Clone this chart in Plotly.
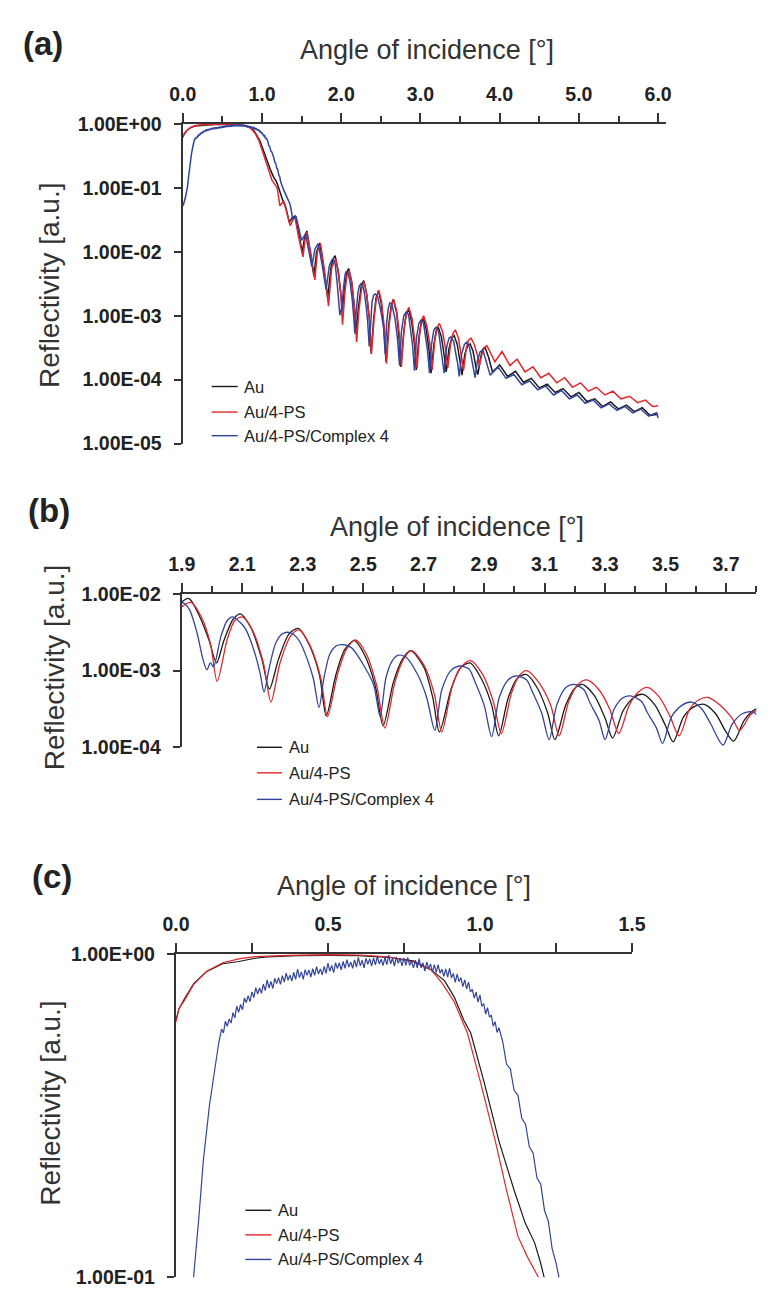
import plotly.graph_objects as go

W, H = 778, 1296

# ---------------- data: (angle [deg], log10 reflectivity) ----------------
AU = [
    (0.0, -0.205), (0.01, -0.17), (0.0275, -0.14), (0.059, -0.092), (0.10, -0.056), (0.154, -0.031),
    (0.207, -0.024), (0.26, -0.014), (0.30, -0.010), (0.40, -0.006), (0.50, -0.005), (0.60, -0.006),
    (0.70, -0.011), (0.78, -0.022), (0.84, -0.05), (0.884, -0.084), (0.916, -0.135), (0.947, -0.206),
    (0.97, -0.246), (1.014, -0.398), (1.063, -0.581), (1.113, -0.733), (1.149, -0.833), (1.18, -0.894),
    (1.199, -0.954), (1.211, -1.0), (1.235, -1.12), (1.27, -1.22), (1.30, -1.30), (1.345, -1.54),
    (1.38, -1.47), (1.417, -1.44), (1.46, -1.70), (1.51, -2.00), (1.54, -1.76), (1.567, -1.67),
    (1.61, -2.0), (1.655, -2.38), (1.69, -2.0), (1.729, -1.86), (1.78, -2.25), (1.83, -2.72),
    (1.87, -2.25), (1.898, -2.11), (1.924, -2.06), (1.96, -2.3), (1.99, -2.6), (2.015, -2.90),
    (2.04, -2.6), (2.07, -2.33), (2.094, -2.26), (2.13, -2.45), (2.165, -2.85), (2.19, -3.24),
    (2.22, -2.85), (2.255, -2.52), (2.285, -2.45), (2.32, -2.65), (2.355, -3.05), (2.378, -3.59),
    (2.41, -3.05), (2.44, -2.72), (2.471, -2.61), (2.505, -2.8), (2.54, -3.2), (2.566, -3.72),
    (2.60, -3.15), (2.63, -2.85), (2.657, -2.74), (2.70, -2.95), (2.73, -3.35), (2.752, -3.80),
    (2.79, -3.25), (2.82, -2.97), (2.853, -2.90), (2.89, -3.1), (2.925, -3.45), (2.948, -3.85),
    (2.98, -3.35), (3.01, -3.1), (3.039, -3.05), (3.075, -3.22), (3.11, -3.55), (3.134, -3.90),
    (3.17, -3.45), (3.20, -3.23), (3.225, -3.18), (3.265, -3.33), (3.30, -3.62), (3.325, -3.88),
    (3.36, -3.52), (3.395, -3.35), (3.426, -3.31), (3.465, -3.45), (3.50, -3.72), (3.525, -3.93),
    (3.56, -3.6), (3.595, -3.47), (3.628, -3.44), (3.665, -3.56), (3.70, -3.80), (3.725, -3.92),
    (3.76, -3.65), (3.79, -3.52), (3.815, -3.49), (3.86, -3.65), (3.91, -3.88), (4.0, -3.77),
    (4.1, -3.95), (4.2, -3.87), (4.3, -4.04), (4.4, -3.98), (4.5, -4.13), (4.6, -4.07), (4.7, -4.2),
    (4.8, -4.14), (4.9, -4.27), (5.0, -4.2), (5.1, -4.34), (5.2, -4.3), (5.3, -4.42), (5.4, -4.35),
    (5.5, -4.46), (5.6, -4.4), (5.7, -4.5), (5.8, -4.44), (5.9, -4.56), (6.0, -4.54),
]

AU_PS = [
    (0.0, -0.211), (0.01, -0.17), (0.0275, -0.145), (0.059, -0.094), (0.1015, -0.054), (0.154, -0.028),
    (0.207, -0.016), (0.26, -0.009), (0.37, -0.005), (0.5, -0.003), (0.6, -0.004), (0.7, -0.01),
    (0.78, -0.025), (0.84, -0.05), (0.878, -0.094), (0.916, -0.15), (0.959, -0.246), (1.002, -0.398),
    (1.051, -0.581), (1.088, -0.733), (1.125, -0.874), (1.155, -0.935), (1.192, -1.0), (1.227, -1.28),
    (1.255, -1.22), (1.275, -1.20), (1.30, -1.32), (1.356, -1.59), (1.39, -1.50), (1.417, -1.46),
    (1.46, -1.75), (1.518, -2.08), (1.545, -1.80), (1.567, -1.69), (1.62, -2.05), (1.668, -2.44),
    (1.70, -2.0), (1.74, -1.87), (1.79, -2.3), (1.84, -2.85), (1.88, -2.25), (1.93, -2.11),
    (1.965, -2.3), (1.995, -2.65), (2.017, -3.14), (2.05, -2.6), (2.075, -2.35), (2.10, -2.30),
    (2.135, -2.48), (2.17, -2.9), (2.195, -3.41), (2.225, -2.9), (2.26, -2.55), (2.288, -2.47),
    (2.325, -2.68), (2.36, -3.1), (2.382, -3.6), (2.415, -3.05), (2.445, -2.72), (2.475, -2.60),
    (2.51, -2.78), (2.545, -3.2), (2.572, -3.75), (2.605, -3.15), (2.635, -2.84), (2.66, -2.74),
    (2.70, -2.92), (2.735, -3.3), (2.76, -3.80), (2.795, -3.2), (2.825, -2.95), (2.855, -2.87),
    (2.895, -3.05), (2.93, -3.4), (2.957, -3.82), (2.99, -3.3), (3.015, -3.07), (3.04, -3.0),
    (3.08, -3.15), (3.12, -3.45), (3.148, -3.85), (3.18, -3.4), (3.21, -3.18), (3.24, -3.12),
    (3.28, -3.25), (3.315, -3.5), (3.345, -3.82), (3.38, -3.45), (3.41, -3.28), (3.44, -3.22),
    (3.48, -3.35), (3.515, -3.6), (3.545, -3.85), (3.58, -3.5), (3.61, -3.38), (3.64, -3.35),
    (3.68, -3.45), (3.72, -3.62), (3.745, -3.78), (3.78, -3.58), (3.81, -3.5), (3.84, -3.47),
    (3.89, -3.6), (3.94, -3.72), (4.03, -3.56), (4.13, -3.78), (4.22, -3.68), (4.32, -3.88),
    (4.42, -3.80), (4.52, -3.97), (4.62, -3.90), (4.72, -4.05), (4.82, -3.97), (4.92, -4.12),
    (5.02, -4.05), (5.12, -4.18), (5.22, -4.12), (5.33, -4.24), (5.43, -4.18), (5.53, -4.3),
    (5.64, -4.26), (5.74, -4.36), (5.84, -4.32), (5.93, -4.42), (6.0, -4.41),
]

AU_PS_C4 = [
    (0.0, -1.28), (0.01, -1.26), (0.03, -1.17), (0.045, -1.08), (0.058, -1.0), (0.075, -0.82),
    (0.09, -0.64), (0.11, -0.47), (0.13, -0.34), (0.14, -0.28),
    (0.150, -0.233), (0.15625, -0.245), (0.1625, -0.209), (0.16875, -0.2245), (0.175, -0.202),
    (0.18125, -0.2145), (0.1875, -0.182), (0.19375, -0.1985), (0.200, -0.162), (0.20625, -0.1815),
    (0.2125, -0.157), (0.21875, -0.1735), (0.225, -0.137), (0.23125, -0.151), (0.2375, -0.130),
    (0.24375, -0.148), (0.250, -0.118), (0.25625, -0.1355), (0.2625, -0.105), (0.26875, -0.1245),
    (0.275, -0.106), (0.28125, -0.1225), (0.2875, -0.094), (0.29375, -0.114), (0.300, -0.081),
    (0.30625, -0.1055), (0.3125, -0.086), (0.31875, -0.1075), (0.325, -0.076), (0.33125, -0.0925),
    (0.3375, -0.074), (0.34375, -0.095), (0.350, -0.068), (0.35625, -0.088), (0.3625, -0.060),
    (0.36875, -0.082), (0.375, -0.066), (0.38125, -0.0845), (0.3875, -0.058), (0.39375, -0.0795),
    (0.400, -0.048), (0.40625, -0.074), (0.4125, -0.056), (0.41875, -0.079), (0.425, -0.049),
    (0.43125, -0.067), (0.4375, -0.050), (0.44375, -0.072), (0.450, -0.046), (0.45625, -0.067),
    (0.4625, -0.040), (0.46875, -0.0625), (0.475, -0.047), (0.48125, -0.0655), (0.4875, -0.039),
    (0.49375, -0.0605), (0.500, -0.029), (0.50625, -0.0545), (0.5125, -0.036), (0.51875, -0.0585),
    (0.525, -0.028), (0.53125, -0.0455), (0.5375, -0.028), (0.54375, -0.050), (0.550, -0.024),
    (0.55625, -0.045), (0.5625, -0.018), (0.56875, -0.041), (0.575, -0.026), (0.58125, -0.045),
    (0.5875, -0.019), (0.59375, -0.0415), (0.600, -0.011), (0.60625, -0.0375), (0.6125, -0.020),
    (0.61875, -0.0435), (0.625, -0.014), (0.63125, -0.0325), (0.6375, -0.016), (0.64375, -0.0385),
    (0.650, -0.013), (0.65625, -0.0345), (0.6625, -0.008), (0.66875, -0.0315), (0.675, -0.017),
    (0.68125, -0.0365), (0.6875, -0.011), (0.69375, -0.034), (0.700, -0.004), (0.70625, -0.031),
    (0.7125, -0.014), (0.71875, -0.0385), (0.725, -0.010), (0.73125, -0.0295), (0.7375, -0.014),
    (0.74375, -0.0375), (0.750, -0.013), (0.75625, -0.036), (0.7625, -0.011), (0.76875, -0.036),
    (0.775, -0.023), (0.78125, -0.044), (0.7875, -0.020), (0.79375, -0.044), (0.800, -0.015),
    (0.80625, -0.0435), (0.8125, -0.028), (0.81875, -0.0535), (0.825, -0.026), (0.83125, -0.0465),
    (0.8375, -0.032), (0.84375, -0.057), (0.850, -0.034), (0.85625, -0.058), (0.8625, -0.034),
    (0.86875, -0.060), (0.875, -0.048), (0.88125, -0.070), (0.8875, -0.047), (0.89375, -0.0725),
    (0.900, -0.045), (0.90625, -0.075), (0.9125, -0.061), (0.91875, -0.0885), (0.925, -0.063),
    (0.93125, -0.086), (0.9375, -0.074), (0.94375, -0.1015), (0.950, -0.081), (0.95625, -0.1085),
    (0.9625, -0.088), (0.96875, -0.118), (0.975, -0.110), (0.98125, -0.137), (0.9875, -0.119),
    (0.99375, -0.1495), (1.000, -0.127), (1.00625, -0.1625), (1.0125, -0.154), (1.01875, -0.187),
    (1.025, -0.167), (1.03125, -0.196), (1.0375, -0.190), (1.04375, -0.224), (1.050, -0.210),
    (1.05625, -0.2435), (1.0625, -0.229), (1.075, -0.272), (1.0875, -0.342), (1.100, -0.356),
    (1.1125, -0.423), (1.125, -0.437), (1.1375, -0.509), (1.150, -0.527), (1.1625, -0.597),
    (1.175, -0.617), (1.1875, -0.693), (1.200, -0.713), (1.2125, -0.794), (1.225, -0.827),
    (1.2375, -0.912), (1.25, -0.955), (1.26, -1.0),
    (1.28, -1.05), (1.30, -1.10), (1.33, -1.18), (1.356, -1.26), (1.39, -1.49), (1.43, -1.44),
    (1.46, -1.60), (1.50, -1.82), (1.55, -1.72), (1.59, -1.95), (1.63, -2.23), (1.67, -1.95),
    (1.71, -1.87), (1.76, -2.2), (1.81, -2.59), (1.85, -2.22), (1.88, -2.13), (1.90, -2.11),
    (1.925, -2.2), (1.95, -2.5), (1.97, -2.85), (1.983, -2.99), (1.995, -2.90), (2.005, -2.95),
    (2.03, -2.55), (2.05, -2.35), (2.068, -2.30), (2.09, -2.36), (2.11, -2.45), (2.14, -2.75),
    (2.16, -3.05), (2.172, -3.28), (2.19, -2.95), (2.21, -2.65), (2.23, -2.53), (2.248, -2.50),
    (2.27, -2.53), (2.29, -2.62), (2.315, -2.85), (2.335, -3.1), (2.354, -3.48), (2.37, -3.1),
    (2.39, -2.78), (2.41, -2.68), (2.429, -2.66), (2.461, -2.70), (2.503, -2.94), (2.535, -3.19),
    (2.556, -3.60), (2.575, -3.1), (2.595, -2.88), (2.614, -2.80), (2.64, -2.82), (2.68, -3.05),
    (2.71, -3.35), (2.737, -3.78), (2.76, -3.25), (2.79, -3.0), (2.82, -2.94), (2.85, -2.98),
    (2.87, -3.15), (2.90, -3.45), (2.925, -3.86), (2.95, -3.35), (2.98, -3.12), (3.007, -3.07),
    (3.04, -3.12), (3.06, -3.28), (3.09, -3.55), (3.115, -3.9), (3.14, -3.45), (3.17, -3.22),
    (3.198, -3.18), (3.23, -3.25), (3.25, -3.42), (3.28, -3.65), (3.30, -3.9), (3.33, -3.5),
    (3.36, -3.35), (3.384, -3.33), (3.42, -3.40), (3.44, -3.55), (3.47, -3.75), (3.49, -3.95),
    (3.52, -3.6), (3.555, -3.45), (3.586, -3.41), (3.62, -3.50), (3.65, -3.7), (3.69, -3.97),
    (3.72, -3.7), (3.755, -3.56), (3.79, -3.54), (3.83, -3.7), (3.88, -3.93), (3.98, -3.80),
    (4.08, -3.98), (4.18, -3.92), (4.28, -4.08), (4.38, -4.02), (4.48, -4.16), (4.58, -4.1),
    (4.68, -4.24), (4.78, -4.17), (4.88, -4.3), (4.98, -4.24), (5.08, -4.37), (5.18, -4.32),
    (5.28, -4.44), (5.38, -4.38), (5.48, -4.48), (5.58, -4.42), (5.68, -4.52), (5.78, -4.46),
    (5.88, -4.57), (5.98, -4.52), (6.0, -4.6),
]

SERIES = [AU, AU_PS, AU_PS_C4]
SERIES_NAMES = ["Au", "Au/4-PS", "Au/4-PS/Complex 4"]
SERIES_COLORS = ["#1a1a1a", "#e3262b", "#33449c"]

A_YTICKS = [1e-5, 1e-4, 1e-3, 1e-2, 1e-1, 1.0]
A_YLABELS = ["1.00E-05", "1.00E-04", "1.00E-03", "1.00E-02", "1.00E-01", "1.00E+00"]
B_YTICKS = [1e-4, 1e-3, 1e-2]
B_YLABELS = ["1.00E-04", "1.00E-03", "1.00E-02"]
C_YTICKS = [1e-1, 1.0]
C_YLABELS = ["1.00E-01", "1.00E+00"]

X_TITLE = "Angle of incidence [°]"
Y_TITLE = "Reflectivity [a.u.]"
PANEL_LABELS = ["(a)", "(b)", "(c)"]

FONT = "Arial, 'Liberation Sans', Helvetica, sans-serif"
AXIS_COLOR = "#333333"
TEXT_COLOR = "#222222"


def fx(px):
    return px / W


def fy(py):
    return 1 - py / H


# panel geometry in pixels: x-left, x-right, y-top, y-bottom
PANELS = [
    dict(x0=175, x1=676.4, y0=115, y1=440, xr=[0, 6.1], dt=1.0, t0=0.0, mdt=0.5, mlen=6,
         yr=[-5, 0], yt=A_YTICKS, yl=A_YLABELS, width=1.5, shape="linear"),
    dict(x0=174, x1=770, y0=593, y1=749, xr=[1.9, 3.8], dt=0.2, t0=1.9, mdt=0.1, mlen=6,
         yr=[-4, -2], yt=B_YTICKS, yl=B_YLABELS, width=1.3, shape="spline"),
    dict(x0=168, x1=641, y0=959, y1=1288, xr=[0, 1.5], dt=0.5, t0=0.0, mdt=0.25, mlen=9,
         yr=[-1, 0], yt=C_YTICKS, yl=C_YLABELS, width=1.2, shape="linear"),
]

fig = go.Figure()

for i, p in enumerate(PANELS):
    sfx = "" if i == 0 else str(i + 1)
    for s, name, col in zip(SERIES, SERIES_NAMES, SERIES_COLORS):
        xs = [a for a, _ in s]
        ys = [10 ** v for _, v in s]
        fig.add_trace(go.Scatter(
            x=xs, y=ys, mode="lines", name=name, showlegend=False,
            line=dict(color=col, width=p["width"], shape=p["shape"], smoothing=0.8),
            xaxis="x" + sfx, yaxis="y" + sfx, hoverinfo="skip",
        ))
    fig.layout["xaxis" + sfx] = dict(
        domain=[fx(p["x0"]), fx(p["x1"])], range=p["xr"], side="top", anchor="y" + sfx,
        tick0=p["t0"], dtick=p["dt"], tickformat=".1f",
        ticks="outside", ticklen=9, tickwidth=1.5, tickcolor=AXIS_COLOR,
        minor=dict(tick0=p["t0"], dtick=p["mdt"], ticks="outside", ticklen=p["mlen"],
                   tickwidth=1.5, tickcolor=AXIS_COLOR, showgrid=False),
        showline=True, linecolor=AXIS_COLOR, linewidth=2,
        showgrid=False, zeroline=False, ticklabelstandoff=4,
        tickfont=dict(family=FONT, size=19.5, color=TEXT_COLOR, weight="bold"),
    )
    fig.layout["yaxis" + sfx] = dict(
        domain=[fy(p["y1"]), fy(p["y0"])], type="log", range=p["yr"], anchor="x" + sfx,
        tickvals=p["yt"], ticktext=p["yl"],
        ticks="outside", ticklen=7, tickwidth=1.5, tickcolor=AXIS_COLOR,
        showline=True, linecolor=AXIS_COLOR, linewidth=2.2,
        showgrid=False, zeroline=False, ticklabelstandoff=8,
        tickfont=dict(family=FONT, size=19.5, color=TEXT_COLOR, weight="bold"),
    )

annotations = []
# panel labels
for lab, (px, py) in zip(PANEL_LABELS, [(30, 33), (36, 508), (39, 880)]):
    annotations.append(dict(text=lab, x=fx(px), y=fy(py), xref="paper", yref="paper",
                            xanchor="center", yanchor="middle", showarrow=False,
                            font=dict(family=FONT, size=33, color=TEXT_COLOR, weight="bold")))
# x axis titles
for (px, py) in [(428, 40), (460, 525), (405, 890)]:
    annotations.append(dict(text=X_TITLE, x=fx(px), y=fy(py), xref="paper", yref="paper",
                            xanchor="center", yanchor="middle", showarrow=False,
                            font=dict(family=FONT, size=27, color="#333333")))
# y axis titles
for (px, py) in [(37, 279), (42, 668), (38, 1111)]:
    annotations.append(dict(text=Y_TITLE, x=fx(px), y=fy(py), xref="paper", yref="paper",
                            xanchor="center", yanchor="middle", showarrow=False, textangle=-90,
                            font=dict(family=FONT, size=28, color="#333333")))

# legends (line sample + label) per panel
shapes = []
LEGEND_POS = [
    dict(lx0=205, lx1=232, tx=237, ys=[382, 408, 432]),
    dict(lx0=252, lx1=278, tx=283, ys=[749, 775, 802]),
    dict(lx0=240, lx1=267, tx=272, ys=[1220, 1245, 1270]),
]
for lp in LEGEND_POS:
    for name, col, yy in zip(SERIES_NAMES, SERIES_COLORS, lp["ys"]):
        shapes.append(dict(type="line", xref="paper", yref="paper",
                           x0=fx(lp["lx0"]), x1=fx(lp["lx1"]), y0=fy(yy), y1=fy(yy),
                           line=dict(color=col, width=1.4)))
        annotations.append(dict(text=name, x=fx(lp["tx"]), y=fy(yy), xref="paper", yref="paper",
                                xanchor="left", yanchor="middle", showarrow=False,
                                font=dict(family=FONT, size=16.5, color=TEXT_COLOR)))

fig.update_layout(
    width=W, height=H, margin=dict(l=0, r=0, t=0, b=0),
    paper_bgcolor="white", plot_bgcolor="white",
    annotations=annotations, shapes=shapes, showlegend=False,
)

fig.write_html("out.html")
